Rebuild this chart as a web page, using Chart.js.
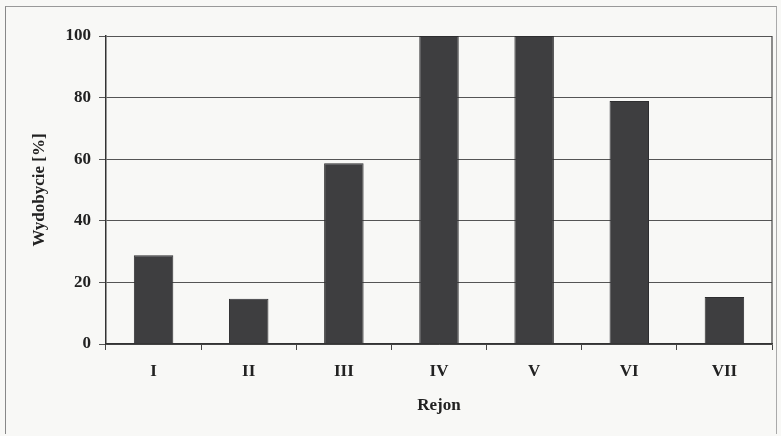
<!DOCTYPE html>
<html><head><meta charset="utf-8">
<script src="https://cdn.jsdelivr.net/npm/chart.js@4/dist/chart.umd.min.js"></script>
<style>
html,body{margin:0;padding:0;background:#f8f8f6;}
#wrap{position:absolute;left:0;top:0;width:781px;height:436px;}
#frame{position:absolute;left:5px;top:6px;width:772px;height:428px;border-left:1px solid #888;border-top:1px solid #999;border-right:1px solid #aaa;box-sizing:border-box;}
canvas{position:absolute;left:0;top:0;}
</style></head><body>
<div id="wrap"><div id="frame"></div><canvas id="c" width="781" height="436"></canvas></div>
<script>
const categories = ['I','II','III','IV','V','VI','VII'];
const values = [28.8, 14.7, 58.7, 100, 100, 78.9, 15.3];
const yTicks = [0, 20, 40, 60, 80, 100];
const yTitle = 'Wydobycie [%]';
const xTitle = 'Rejon';

const font = {family:"'Liberation Serif','Times New Roman',serif", weight:'bold', size:17};
const frame = {
  id:'frame',
  afterDatasetsDraw(chart){
    const a = chart.chartArea, ctx = chart.ctx;
    ctx.save(); ctx.strokeStyle='#444'; ctx.lineWidth=1.2;
    ctx.beginPath(); ctx.moveTo(a.right, a.top); ctx.lineTo(a.right, a.bottom); ctx.stroke();
    ctx.restore();
  }
};
new Chart(document.getElementById('c'), {
  type:'bar',
  data:{labels:categories, datasets:[{data:values, backgroundColor:'#3e3e40', borderColor:'#2e2e30', borderWidth:1, barPercentage:0.83, categoryPercentage:0.5}]},
  options:{
    responsive:false, animation:false, devicePixelRatio:1,
    layout:{padding:{left:25, right:9, top:36, bottom:16}},
    plugins:{legend:{display:false}, tooltip:{enabled:false}},
    scales:{
      x:{
        grid:{display:true, drawOnChartArea:false, drawTicks:true, tickLength:6, color:'#444', offset:true},
        border:{display:true, color:'#333', width:1.5},
        ticks:{color:'#222', font:font, padding:11},
        title:{display:true, text:xTitle, color:'#222', font:font, padding:{top:16}},
        afterFit(s){ s.height = 76; }
      },
      y:{
        min:0, max:100,
        afterBuildTicks(s){ s.ticks = yTicks.map(v=>({value:v})); },
        grid:{color:'#555', lineWidth:1, tickLength:7, drawTicks:true},
        border:{display:true, color:'#333', width:1.5},
        ticks:{color:'#222', font:font, padding:8},
        title:{display:true, text:yTitle, color:'#222', font:font, padding:{bottom:10}},
        afterFit(s){ s.width = 81; }
      }
    }
  },
  plugins:[frame]
});
</script></body></html>
